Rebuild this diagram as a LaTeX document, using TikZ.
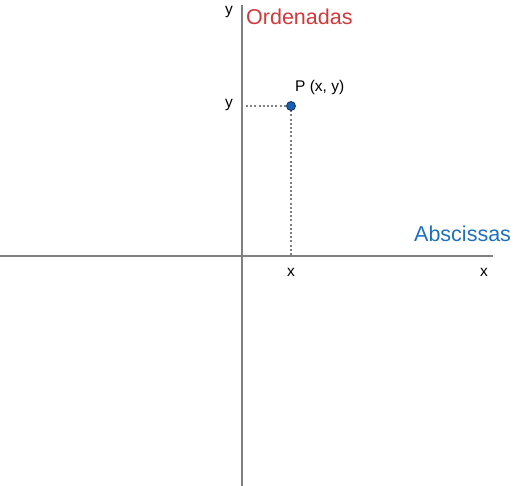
\documentclass[tikz,border=0pt]{standalone}
\usepackage{fontspec}
\setmainfont{Liberation Sans}
\usepackage{tikz}
\usetikzlibrary{positioning}
\definecolor{axisgray}{RGB}{128,128,128}
\definecolor{ordred}{RGB}{211,56,56}
\definecolor{absblue}{RGB}{30,111,192}
\definecolor{ptblue}{RGB}{25,95,175}
\definecolor{ptedge}{RGB}{16,52,96}
\begin{document}
\begin{tikzpicture}[x=1pt,y=-1pt]
	\tikzstyle{every node}+=[inner sep=0pt]
	\tikzstyle{axis}=[axisgray,line width=2.2pt]
	\tikzstyle{guide}=[axisgray,line width=2.4pt,dash pattern=on 2pt off 2.2pt]
	\tikzstyle{small}=[font=\fontsize{15.5}{17}\selectfont]
	\tikzstyle{big}=[font=\fontsize{21.5}{24}\selectfont,anchor=base west]
	\useasboundingbox (0,0) rectangle (517,486);
	% axes
	\coordinate (ytop) at (242,5);
	\coordinate (ybot) at (242,486);
	\coordinate (xleft) at (0,256);
	\coordinate (xright) at (493,256);
	\draw [axis] (ytop) -- (ybot);
	\draw [axis] (xleft) -- (xright);
	% point P and its projections
	\coordinate (py) at (246,106);
	\coordinate (px) at (291,256);
	\draw [guide] (py) -- (291,106);
	\draw [guide] (291,106) -- (px);
	\node (P) [circle,minimum size=9pt,fill=ptblue,draw=ptedge,line width=0.8pt] at (291,106) {};
	% labels
	\node (ylabtop) [small] at (229,12) {y};
	\node (ylab) [small] at (229,105) {y};
	\node (plab) [small,anchor=west] at (295,87) {P (x, y)};
	\node (xlab) [small] at (291,272) {x};
	\node (xlabend) [small] at (484,272) {x};
	\node (ord) [big,text=ordred] at (246,25) {Ordenadas};
	\node (absc) [big,text=absblue] at (414,242) {Abscissas};
\end{tikzpicture}
\end{document}
